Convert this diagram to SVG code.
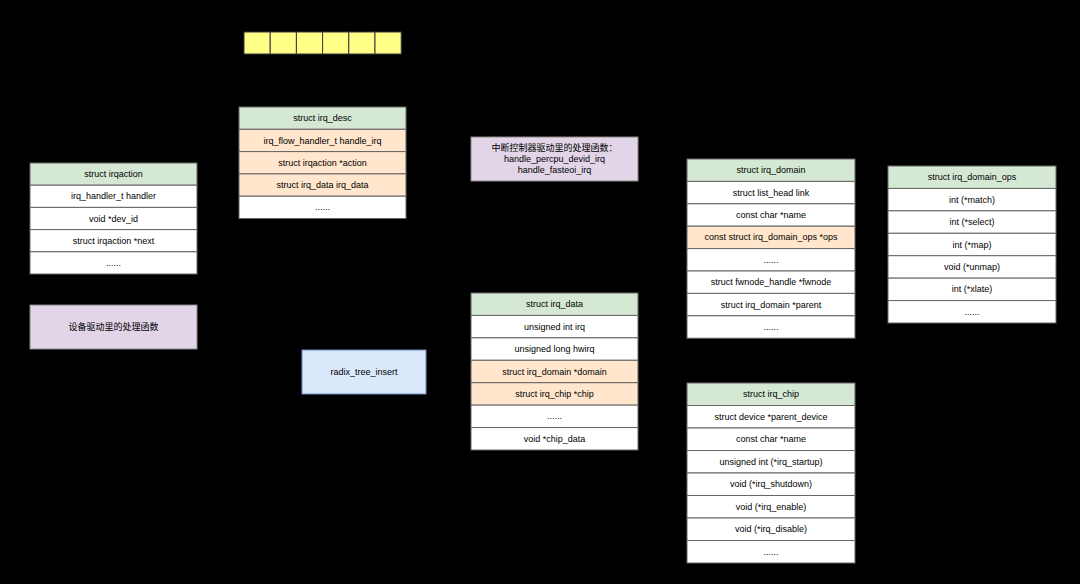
<svg xmlns="http://www.w3.org/2000/svg" width="1080" height="584" viewBox="0 0 1080 584">
<style>
.t{font-family:"Liberation Sans",Arial,"Noto Sans CJK SC",sans-serif;font-size:9px;fill:#000;text-anchor:middle;dominant-baseline:central}
.c{stroke:#666;stroke-width:1}
.h{fill:#d5e8d4}
.w{fill:#fff}
.o{fill:#ffe6cc}
.y{fill:#ffff88;stroke:#36393d;stroke-width:1}
.p{fill:#e1d5e7;stroke:#888;stroke-width:1}
.b{fill:#dae8fc;stroke:#6c8ebf;stroke-width:1}
</style>
<rect x="0" y="0" width="1080" height="584" fill="#000"/>
<g id="connectors"></g>

<g id="irq_array">
<rect class="y" x="244" y="32" width="26.2" height="22"/>
<rect class="y" x="270.2" y="32" width="26.2" height="22"/>
<rect class="y" x="296.4" y="32" width="26.2" height="22"/>
<rect class="y" x="322.6" y="32" width="26.2" height="22"/>
<rect class="y" x="348.8" y="32" width="26.2" height="22"/>
<rect class="y" x="375" y="32" width="26.2" height="22"/>
</g>

<g id="irq_desc">
<rect class="c h" x="239" y="107" width="167" height="22.3"/>
<rect class="c o" x="239" y="129.3" width="167" height="22.3"/>
<rect class="c o" x="239" y="151.6" width="167" height="22.3"/>
<rect class="c o" x="239" y="173.9" width="167" height="22.3"/>
<rect class="c w" x="239" y="196.2" width="167" height="22.3"/>
<text class="t" x="322.5" y="118.2">struct irq_desc</text>
<text class="t" x="322.5" y="140.5">irq_flow_handler_t handle_irq</text>
<text class="t" x="322.5" y="162.8">struct irqaction *action</text>
<text class="t" x="322.5" y="185.1">struct irq_data irq_data</text>
<text class="t" x="322.5" y="207.4">......</text>
</g>

<g id="irqaction">
<rect class="c h" x="30" y="163" width="167" height="22.2"/>
<rect class="c w" x="30" y="185.2" width="167" height="22.2"/>
<rect class="c w" x="30" y="207.4" width="167" height="22.2"/>
<rect class="c w" x="30" y="229.6" width="167" height="22.2"/>
<rect class="c w" x="30" y="251.8" width="167" height="22.2"/>
<text class="t" x="113.5" y="174.1">struct irqaction</text>
<text class="t" x="113.5" y="196.3">irq_handler_t handler</text>
<text class="t" x="113.5" y="218.5">void *dev_id</text>
<text class="t" x="113.5" y="240.7">struct irqaction *next</text>
<text class="t" x="113.5" y="262.9">......</text>
</g>

<g id="device_handler">
<rect class="p" x="30" y="305" width="167" height="44"/>
<text class="t" x="113.5" y="327">设备驱动里的处理函数</text>
</g>

<g id="controller_handler">
<rect class="p" x="471" y="137" width="167" height="44"/>
<text class="t" x="554.5" y="148">中断控制器驱动里的处理函数：</text>
<text class="t" x="554.5" y="159">handle_percpu_devid_irq</text>
<text class="t" x="554.5" y="170">handle_fasteoi_irq</text>
</g>

<g id="radix_tree_insert">
<rect class="b" x="302" y="350" width="124" height="44"/>
<text class="t" x="364" y="372">radix_tree_insert</text>
</g>

<g id="irq_data">
<rect class="c h" x="471" y="293" width="167" height="22.43"/>
<rect class="c w" x="471" y="315.43" width="167" height="22.43"/>
<rect class="c w" x="471" y="337.86" width="167" height="22.43"/>
<rect class="c o" x="471" y="360.29" width="167" height="22.43"/>
<rect class="c o" x="471" y="382.71" width="167" height="22.43"/>
<rect class="c w" x="471" y="405.14" width="167" height="22.43"/>
<rect class="c w" x="471" y="427.57" width="167" height="22.43"/>
<text class="t" x="554.5" y="304.2">struct irq_data</text>
<text class="t" x="554.5" y="326.6">unsigned int irq</text>
<text class="t" x="554.5" y="349.1">unsigned long hwirq</text>
<text class="t" x="554.5" y="371.5">struct irq_domain *domain</text>
<text class="t" x="554.5" y="393.9">struct irq_chip *chip</text>
<text class="t" x="554.5" y="416.4">......</text>
<text class="t" x="554.5" y="438.8">void *chip_data</text>
</g>

<g id="irq_domain">
<rect class="c h" x="687" y="159" width="168" height="22.4"/>
<rect class="c w" x="687" y="181.4" width="168" height="22.4"/>
<rect class="c w" x="687" y="203.8" width="168" height="22.4"/>
<rect class="c o" x="687" y="226.2" width="168" height="22.4"/>
<rect class="c w" x="687" y="248.6" width="168" height="22.4"/>
<rect class="c w" x="687" y="271" width="168" height="22.4"/>
<rect class="c w" x="687" y="293.4" width="168" height="22.4"/>
<rect class="c w" x="687" y="315.8" width="168" height="22.4"/>
<text class="t" x="771" y="170.2">struct irq_domain</text>
<text class="t" x="771" y="192.6">struct list_head link</text>
<text class="t" x="771" y="215">const char *name</text>
<text class="t" x="771" y="237.4">const struct irq_domain_ops *ops</text>
<text class="t" x="771" y="259.8">......</text>
<text class="t" x="771" y="282.2">struct fwnode_handle *fwnode</text>
<text class="t" x="771" y="304.6">struct irq_domain *parent</text>
<text class="t" x="771" y="327">......</text>
</g>

<g id="irq_domain_ops">
<rect class="c h" x="888" y="166" width="168" height="22.43"/>
<rect class="c w" x="888" y="188.43" width="168" height="22.43"/>
<rect class="c w" x="888" y="210.86" width="168" height="22.43"/>
<rect class="c w" x="888" y="233.29" width="168" height="22.43"/>
<rect class="c w" x="888" y="255.71" width="168" height="22.43"/>
<rect class="c w" x="888" y="278.14" width="168" height="22.43"/>
<rect class="c w" x="888" y="300.57" width="168" height="22.43"/>
<text class="t" x="972" y="177.2">struct irq_domain_ops</text>
<text class="t" x="972" y="199.6">int (*match)</text>
<text class="t" x="972" y="222.1">int (*select)</text>
<text class="t" x="972" y="244.5">int (*map)</text>
<text class="t" x="972" y="266.9">void (*unmap)</text>
<text class="t" x="972" y="289.4">int (*xlate)</text>
<text class="t" x="972" y="311.8">......</text>
</g>

<g id="irq_chip">
<rect class="c h" x="687" y="383" width="168" height="22.5"/>
<rect class="c w" x="687" y="405.5" width="168" height="22.5"/>
<rect class="c w" x="687" y="428" width="168" height="22.5"/>
<rect class="c w" x="687" y="450.5" width="168" height="22.5"/>
<rect class="c w" x="687" y="473" width="168" height="22.5"/>
<rect class="c w" x="687" y="495.5" width="168" height="22.5"/>
<rect class="c w" x="687" y="518" width="168" height="22.5"/>
<rect class="c w" x="687" y="540.5" width="168" height="22.5"/>
<text class="t" x="771" y="394.2">struct irq_chip</text>
<text class="t" x="771" y="416.7">struct device *parent_device</text>
<text class="t" x="771" y="439.2">const char *name</text>
<text class="t" x="771" y="461.7">unsigned int (*irq_startup)</text>
<text class="t" x="771" y="484.2">void (*irq_shutdown)</text>
<text class="t" x="771" y="506.7">void (*irq_enable)</text>
<text class="t" x="771" y="529.2">void (*irq_disable)</text>
<text class="t" x="771" y="551.7">......</text>
</g>
</svg>
